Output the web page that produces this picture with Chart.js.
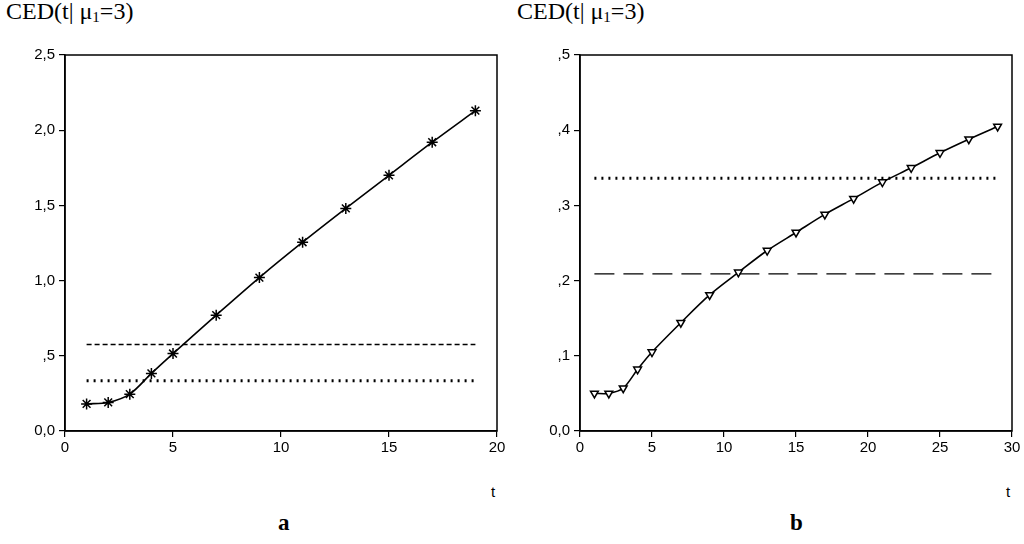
<!DOCTYPE html>
<html>
<head>
<meta charset="utf-8">
<script src="https://cdn.jsdelivr.net/npm/chart.js@4.4.1/dist/chart.umd.min.js"></script>
<style>
  body { margin: 0; background: #fff; width: 1024px; height: 544px; overflow: hidden; position: relative; }
  .box { position: absolute; top: 0; width: 512px; height: 470px; }
  .lbl { position: absolute; font-family: "Liberation Serif", serif; color: #000; white-space: nowrap; }
  .ylab { top: -1px; font-size: 24px; line-height: 24px; }
  .ylab sub { font-size: 15px; vertical-align: -3px; }
  .tlab { font-family: "Liberation Sans", Arial, sans-serif; font-size: 15px; top: 483px; }
  .cap { font-size: 23px; font-weight: bold; top: 510px; }
</style>
</head>
<body>
<div class="lbl ylab" style="left:6px">CED(t| μ<sub>1</sub>=3)</div>
<div class="lbl ylab" style="left:517px">CED(t| μ<sub>1</sub>=3)</div>
<div class="box" style="left:0"><canvas id="chartA" width="512" height="470"></canvas></div>
<div class="box" style="left:512px"><canvas id="chartB" width="512" height="470"></canvas></div>
<div class="lbl tlab" style="left:491px">t</div>
<div class="lbl tlab" style="left:1006px">t</div>
<div class="lbl cap" style="left:278px">a</div>
<div class="lbl cap" style="left:790px">b</div>
<script>
// panel a
const tA = [1, 2, 3, 4, 5, 7, 9, 11, 13, 15, 17, 19];
const cedA = [0.18, 0.19, 0.245, 0.383, 0.515, 0.77, 1.02, 1.255, 1.48, 1.70, 1.92, 2.13];
const dashedA = 0.575;
const dottedA = 0.334;
const yTicksA = ['0,0', ',5', '1,0', '1,5', '2,0', '2,5'];

// panel b
const tB = [1, 2, 3, 4, 5, 7, 9, 11, 13, 15, 17, 19, 21, 23, 25, 27, 29];
const cedB = [0.050, 0.050, 0.057, 0.082, 0.105, 0.144, 0.181, 0.211, 0.240, 0.264, 0.288, 0.309, 0.331, 0.350, 0.370, 0.388, 0.405];
const dashedB = 0.209;
const dottedB = 0.336;
const yTicksB = ['0,0', ',1', ',2', ',3', ',4', ',5'];

// draw the closed frame round the plot area
const framePlugin = {
    id: 'frame',
    afterDraw(chart) {
        const a = chart.chartArea;
        const ctx = chart.ctx;
        ctx.save();
        ctx.strokeStyle = '#000';
        ctx.lineWidth = 1.5;
        ctx.strokeRect(a.left, a.top, a.right - a.left, a.bottom - a.top);
        ctx.restore();
    }
};

function flatLine(xs, level) {
    return [{ x: xs[0], y: level }, { x: xs[xs.length - 1], y: level }];
}

function makeChart(id, ts, values, dashed, dotted, dashPattern, dashWidth, marker, xMax, yMax, yStep, yTicks, leftWidth, rightPad) {
    const ctx = document.getElementById(id).getContext('2d');
    const tickFont = { family: '"Liberation Sans", Arial, sans-serif', size: 15 };
    return new Chart(ctx, {
        type: 'scatter',
        data: {
            datasets: [
                {
                    data: flatLine(ts, dashed),
                    showLine: true,
                    borderColor: '#000',
                    borderWidth: dashWidth,
                    borderDash: dashPattern,
                    pointRadius: 0
                },
                {
                    data: flatLine(ts, dotted),
                    showLine: true,
                    borderColor: '#000',
                    borderWidth: 3,
                    borderDash: [2, 5],
                    pointRadius: 0
                },
                {
                    data: ts.map((t, i) => ({ x: t, y: values[i] })),
                    showLine: true,
                    borderColor: '#000',
                    borderWidth: 1.6,
                    tension: 0.3,
                    pointStyle: marker.style,
                    rotation: marker.rotation,
                    pointRadius: marker.radius,
                    pointBorderWidth: 1.5,
                    pointBorderColor: '#000',
                    pointBackgroundColor: '#fff'
                }
            ]
        },
        options: {
            responsive: false,
            animation: false,
            layout: { padding: { top: 55, right: rightPad, left: 0, bottom: 0 } },
            plugins: { legend: { display: false }, tooltip: { enabled: false } },
            scales: {
                x: {
                    type: 'linear',
                    min: 0,
                    max: xMax,
                    ticks: { stepSize: 5, color: '#000', font: tickFont, padding: 2, maxRotation: 0 },
                    grid: { drawOnChartArea: false, tickLength: 6, color: '#000', lineWidth: 1.2 },
                    border: { color: '#000', width: 1.5 },
                    afterFit: s => { s.height = 39; }
                },
                y: {
                    min: 0,
                    max: yMax,
                    ticks: {
                        stepSize: yStep,
                        color: '#000',
                        font: tickFont,
                        padding: 4,
                        callback: v => yTicks[Math.round(v / yStep)]
                    },
                    grid: { drawOnChartArea: false, tickLength: 6, color: '#000', lineWidth: 1.2 },
                    border: { color: '#000', width: 1.5 },
                    afterFit: s => { s.width = leftWidth; }
                }
            }
        },
        plugins: [framePlugin]
    });
}

makeChart('chartA', tA, cedA, dashedA, dottedA, [5, 3], 1.4,
    { style: 'star', rotation: 0, radius: 5.5 }, 20, 2.5, 0.5, yTicksA, 65, 15);
makeChart('chartB', tB, cedB, dashedB, dottedB, [20, 9], 1.3,
    { style: 'triangle', rotation: 180, radius: 4.5 }, 30, 0.5, 0.1, yTicksB, 68, 12);
</script>
</body>
</html>
